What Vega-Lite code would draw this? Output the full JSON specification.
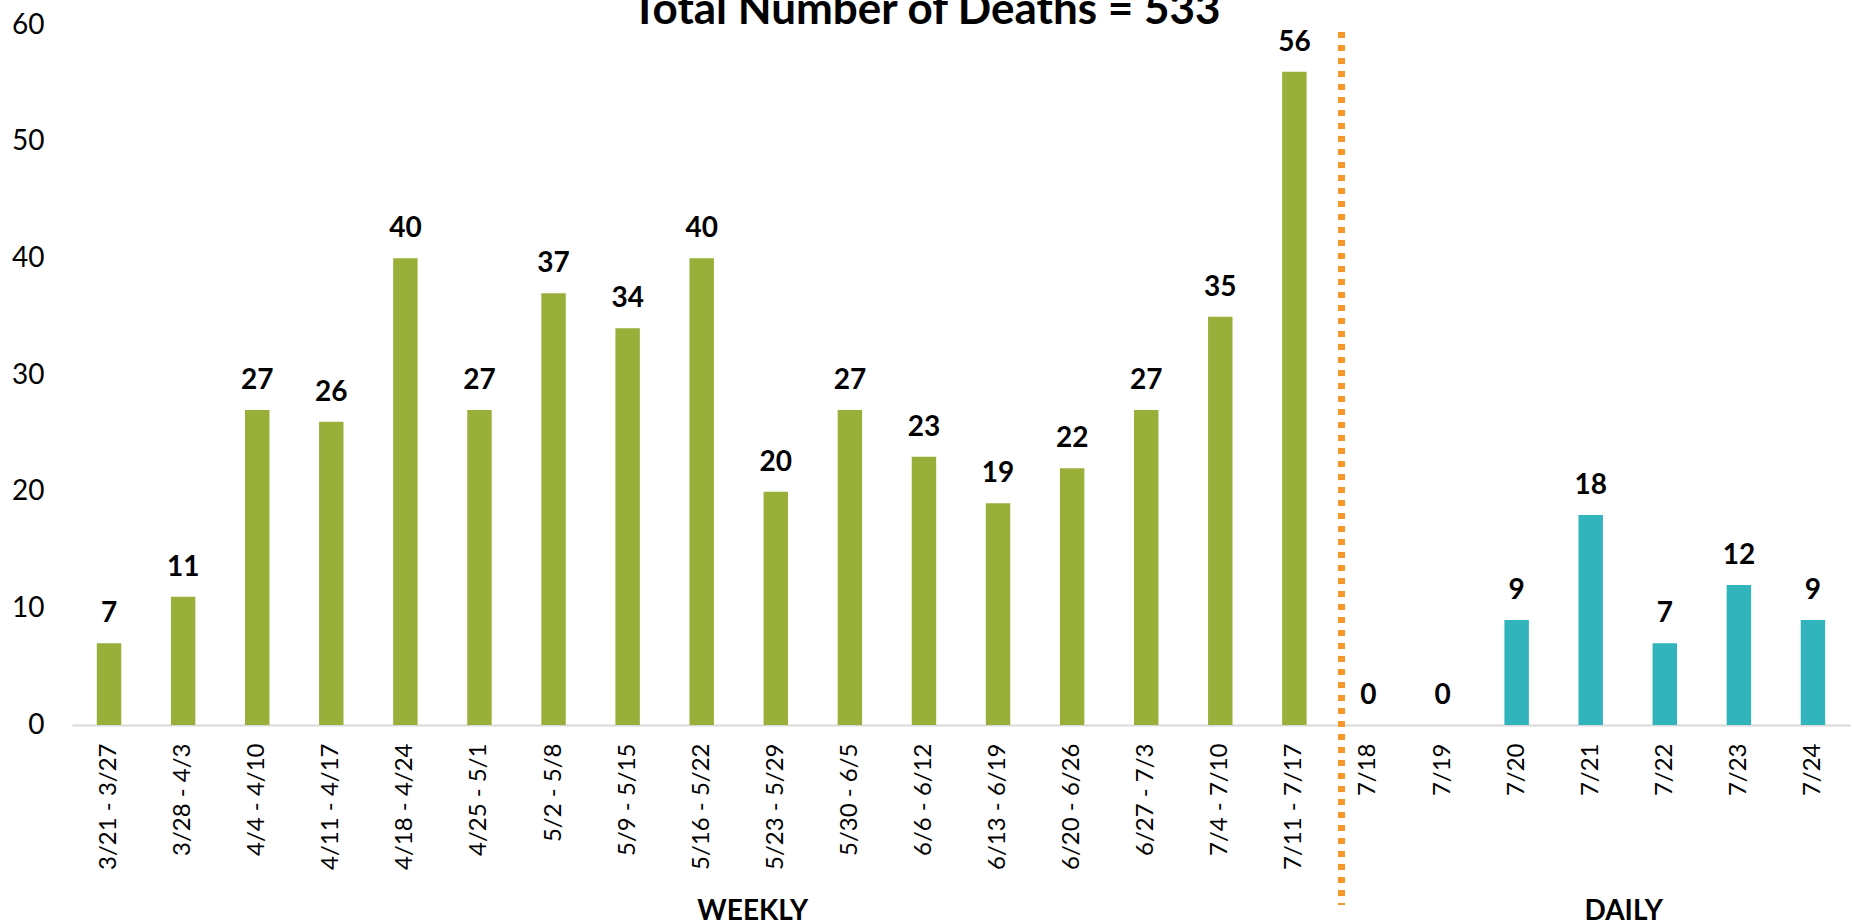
{
  "$schema": "https://vega.github.io/schema/vega-lite/v6.json",
  "autosize": {"type": "none"},
  "width": 1778,
  "height": 700,
  "padding": {"left": 72, "top": 25, "right": 2, "bottom": 198},
  "background": "white",
  "config": {"view": {"stroke": null}, "font": "Lato"},
  "title": {
    "text": "Total Number of Deaths = 533",
    "font": "Lato",
    "fontSize": 44,
    "fontWeight": "bold",
    "color": "#000000",
    "anchor": "middle",
    "frame": "group",
    "dx": -35,
    "dy": 39,
    "baseline": "alphabetic",
    "offset": -18
  },
  "datasets": {
    "deaths": [
      {"period": "3/21 - 3/27", "deaths": 7, "kind": "Weekly"},
      {"period": "3/28 - 4/3", "deaths": 11, "kind": "Weekly"},
      {"period": "4/4 - 4/10", "deaths": 27, "kind": "Weekly"},
      {"period": "4/11 - 4/17", "deaths": 26, "kind": "Weekly"},
      {"period": "4/18 - 4/24", "deaths": 40, "kind": "Weekly"},
      {"period": "4/25 - 5/1", "deaths": 27, "kind": "Weekly"},
      {"period": "5/2 - 5/8", "deaths": 37, "kind": "Weekly"},
      {"period": "5/9 - 5/15", "deaths": 34, "kind": "Weekly"},
      {"period": "5/16 - 5/22", "deaths": 40, "kind": "Weekly"},
      {"period": "5/23 - 5/29", "deaths": 20, "kind": "Weekly"},
      {"period": "5/30 - 6/5", "deaths": 27, "kind": "Weekly"},
      {"period": "6/6 - 6/12", "deaths": 23, "kind": "Weekly"},
      {"period": "6/13 - 6/19", "deaths": 19, "kind": "Weekly"},
      {"period": "6/20 - 6/26", "deaths": 22, "kind": "Weekly"},
      {"period": "6/27 - 7/3", "deaths": 27, "kind": "Weekly"},
      {"period": "7/4 - 7/10", "deaths": 35, "kind": "Weekly"},
      {"period": "7/11 - 7/17", "deaths": 56, "kind": "Weekly"},
      {"period": "7/18", "deaths": 0, "kind": "Daily"},
      {"period": "7/19", "deaths": 0, "kind": "Daily"},
      {"period": "7/20", "deaths": 9, "kind": "Daily"},
      {"period": "7/21", "deaths": 18, "kind": "Daily"},
      {"period": "7/22", "deaths": 7, "kind": "Daily"},
      {"period": "7/23", "deaths": 12, "kind": "Daily"},
      {"period": "7/24", "deaths": 9, "kind": "Daily"}
    ]
  },
  "data": {"name": "deaths"},
  "encoding": {
    "x": {
      "field": "period",
      "type": "nominal",
      "scale": {
        "domain": ["3/21 - 3/27", "3/28 - 4/3", "4/4 - 4/10", "4/11 - 4/17", "4/18 - 4/24", "4/25 - 5/1", "5/2 - 5/8", "5/9 - 5/15", "5/16 - 5/22", "5/23 - 5/29", "5/30 - 6/5", "6/6 - 6/12", "6/13 - 6/19", "6/20 - 6/26", "6/27 - 7/3", "7/4 - 7/10", "7/11 - 7/17", "7/18", "7/19", "7/20", "7/21", "7/22", "7/23", "7/24"],
        "paddingInner": 0.67,
        "paddingOuter": 0.335
      },
      "axis": {
        "title": null,
        "labelAngle": -90,
        "labelPadding": 18,
        "ticks": false,
        "domainColor": "#d9d9d9",
        "domainWidth": 2,
        "labelFont": "Lato",
        "labelFontSize": 24,
        "labelColor": "#000000",
        "labelOverlap": false,
        "grid": false
      }
    },
    "y": {
      "field": "deaths",
      "type": "quantitative",
      "scale": {"domain": [0, 60], "nice": false},
      "axis": {
        "title": null,
        "values": [0, 10, 20, 30, 40, 50, 60],
        "grid": false,
        "domain": false,
        "ticks": false,
        "labelPadding": 28,
        "labelFont": "Lato",
        "labelFontSize": 28,
        "labelColor": "#000000"
      }
    }
  },
  "layer": [
    {
      "mark": {"type": "bar"},
      "encoding": {
        "color": {
          "field": "kind",
          "type": "nominal",
          "scale": {"domain": ["Weekly", "Daily"], "range": ["#98AF3A", "#31B4BB"]},
          "legend": null
        }
      }
    },
    {
      "mark": {"type": "text", "font": "Lato", "fontWeight": "bold", "fontSize": 28, "baseline": "alphabetic", "dy": -21, "color": "#000000"},
      "encoding": {"text": {"field": "deaths", "type": "quantitative"}}
    },
    {
      "mark": {"type": "rule", "color": "#F7962B", "strokeWidth": 6, "strokeDash": [6, 7], "strokeCap": "butt", "xOffset": -27},
      "encoding": {
        "x": {"datum": "7/18"},
        "y": {"datum": 59.4},
        "y2": {"datum": -15.4}
      }
    },
    {
      "data": {"values": [{"label": "WEEKLY", "at": "5/23 - 5/29", "level": -16.7}]},
      "mark": {"type": "text", "font": "Lato", "fontWeight": "bold", "fontSize": 28, "baseline": "alphabetic", "dx": -23, "color": "#000000"},
      "encoding": {
        "x": {"field": "at", "type": "nominal"},
        "y": {"field": "level", "type": "quantitative"},
        "text": {"field": "label", "type": "nominal"}
      }
    },
    {
      "data": {"values": [{"label": "DAILY", "at": "7/21", "level": -16.7}]},
      "mark": {"type": "text", "font": "Lato", "fontWeight": "bold", "fontSize": 28, "baseline": "alphabetic", "dx": 33, "color": "#000000"},
      "encoding": {
        "x": {"field": "at", "type": "nominal"},
        "y": {"field": "level", "type": "quantitative"},
        "text": {"field": "label", "type": "nominal"}
      }
    }
  ]
}
